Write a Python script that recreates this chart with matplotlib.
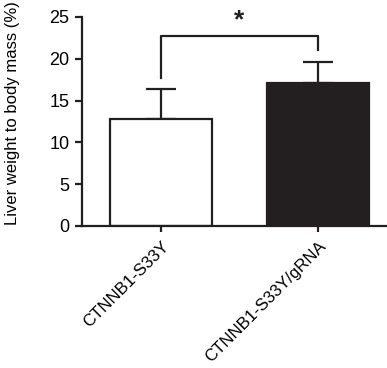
import matplotlib
matplotlib.use("Agg")
import matplotlib.pyplot as plt

plt.rcParams['font.family'] = ['Liberation Sans', 'DejaVu Sans']

categories = ["CTNNB1-S33Y", "CTNNB1-S33Y/gRNA"]
means = [12.8, 17.1]
errors = [3.55, 2.55]
bar_colors = ["white", "#231f20"]
yticks = [0, 5, 10, 15, 20, 25]
bracket_y = 22.7
bracket_legs = [17.7, 21.0]
sig_label = "*"

fig = plt.figure(figsize=(3.87, 3.68), dpi=100)
ax = fig.add_axes([0.212, 0.386, 0.788, 0.568])

x = list(range(len(categories)))
lw = 1.6
ax.bar(x, means, width=0.655, color=bar_colors, edgecolor="#231f20", linewidth=lw, zorder=2)
ax.errorbar(x, means, yerr=[[0, 0], errors], fmt="none", ecolor="#231f20",
            elinewidth=lw, capsize=11, capthick=lw, zorder=1)

# significance bracket
ax.plot([x[0], x[0], x[1], x[1]], [bracket_legs[0], bracket_y, bracket_y, bracket_legs[1]],
        color="#231f20", lw=lw, clip_on=False)
ax.text((x[0] + x[1]) / 2, bracket_y + 0.5, sig_label, ha="center", va="bottom",
        fontsize=19, fontweight="bold", color="#231f20")

ax.set_xlim(-0.503, 1.44)
ax.set_ylim(0, 25)
ax.set_yticks(yticks)
ax.set_xticks(x)
ax.set_xticklabels(categories, rotation=45, ha="right", rotation_mode="anchor", fontsize=12.2)
ax.tick_params(axis="y", labelsize=13, width=lw, length=5, color="#231f20", pad=4)
ax.tick_params(axis="x", width=lw, length=4, color="#231f20", pad=5)
ax.set_ylabel("Liver weight to body mass (%)", fontsize=12)
ax.yaxis.set_label_coords(-0.205, 0.54)
for s in ["top", "right"]:
    ax.spines[s].set_visible(False)
for s in ["left", "bottom"]:
    ax.spines[s].set_linewidth(lw)
    ax.spines[s].set_color("#231f20")

fig.savefig("out.png", dpi=100)
